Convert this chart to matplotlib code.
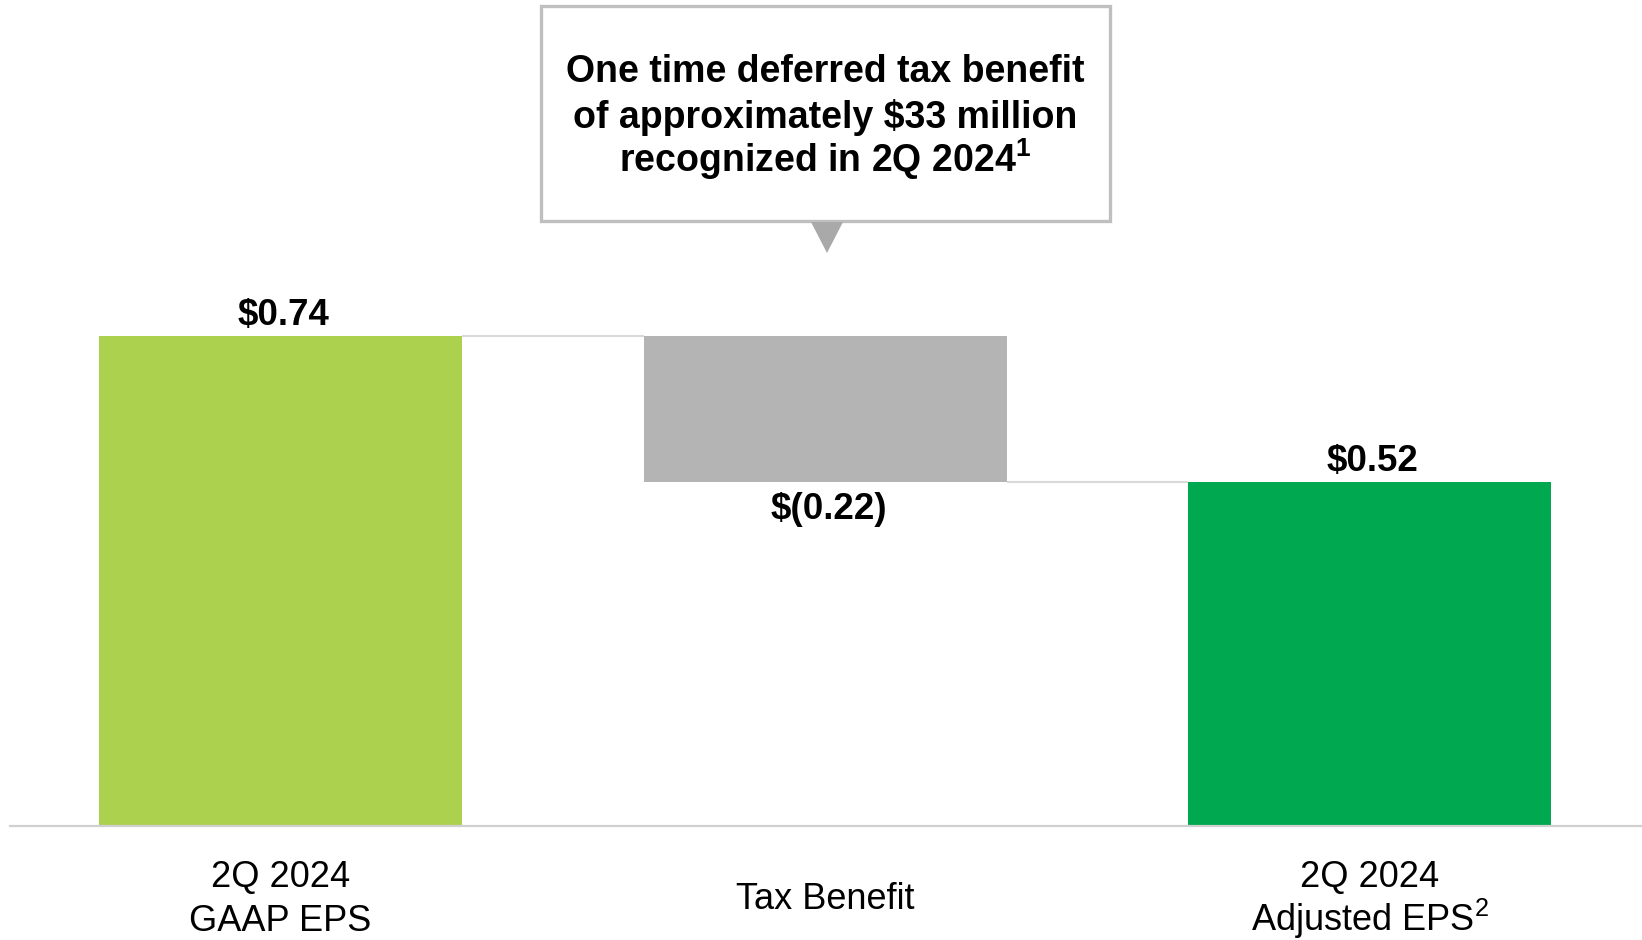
import matplotlib
matplotlib.use("Agg")
import matplotlib.pyplot as plt
from matplotlib.patches import Rectangle, Polygon

plt.rcParams["font.family"] = ["Liberation Sans", "DejaVu Sans"]
plt.rcParams["mathtext.fontset"] = "custom"
plt.rcParams["mathtext.rm"] = "Liberation Sans"
plt.rcParams["mathtext.bf"] = "Liberation Sans:bold"

# Waterfall data: EPS bridge
categories = ["2Q 2024\nGAAP EPS", "Tax Benefit", "2Q 2024\nAdjusted EPS$^{\\mathrm{2}}$"]
values = [0.74, -0.22, 0.52]
kinds = ["total", "delta", "total"]
value_labels = ["$0.74", "$(0.22)", "$0.52"]
bar_colors = ["#ACD14F", "#B4B4B5", "#00A84F"]
callout_lines = ["One time deferred tax benefit",
                 "of approximately \\$33 million",
                 "recognized in 2Q 2024$^{\\mathbf{1}}$"]

W, H = 1642, 940
fig = plt.figure(figsize=(W / 100, H / 100), dpi=100)
ax = fig.add_axes([0, 0, 1, 1])
ax.set_xlim(-0.5153, 2.5002)
ax.set_ylim(-0.1722, 1.2477)
ax.axis("off")

width = 0.667
x = list(range(len(categories)))

# compute bar bottoms / tops for the waterfall
bottoms, tops = [], []
running = 0.0
for v, k in zip(values, kinds):
    if k == "total":
        b, t = 0.0, v
        running = v
    else:
        start = running
        running = running + v
        b, t = min(start, running), max(start, running)
    bottoms.append(b)
    tops.append(t)

ax.bar(x, [t - b for t, b in zip(tops, bottoms)], bottom=bottoms,
       width=width, color=bar_colors, edgecolor="none", zorder=2)

# connectors between consecutive bars
levels = []
running = 0.0
for v, k in zip(values, kinds):
    running = v if k == "total" else running + v
    levels.append(running)
for i in range(len(x) - 1):
    ax.plot([x[i] + width / 2, x[i + 1] - width / 2], [levels[i], levels[i]],
            color="#D9D9D9", lw=1.5, zorder=1, solid_capstyle="butt")

# baseline
ax.plot([-0.497, 2.5002], [0, 0], color="#D0D0D0", lw=1.6, zorder=3)

# value labels (plain text, no math parsing)
for i, (lab, v, k) in enumerate(zip(value_labels, values, kinds)):
    if v >= 0:
        t = ax.annotate(lab, (x[i] + 0.006, tops[i]), xytext=(0, 2), textcoords="offset points",
                        ha="center", va="bottom", fontsize=26.5, fontweight="bold")
    else:
        t = ax.annotate(lab, (x[i] + 0.006, bottoms[i]), xytext=(0, -7.5), textcoords="offset points",
                        ha="center", va="top", fontsize=26.5, fontweight="bold")
    t.set_parse_math(False)

# category labels under the baseline (text baselines)
for i, cat in enumerate(categories):
    lines = cat.split("\n")
    if len(lines) == 2:
        ax.text(x[i], -0.0925, lines[0], ha="center", va="baseline", fontsize=26)
        ax.text(x[i], -0.1580, lines[1], ha="center", va="baseline", fontsize=26)
    else:
        ax.text(x[i], -0.1260, lines[0], ha="center", va="baseline", fontsize=26)

# callout box with pointer (figure pixel coordinates)
tr = fig.transFigure
def fx(px):
    return px / W
def fy(py):
    return 1 - py / H

box = Rectangle((fx(541), fy(221)), fx(1110) - fx(541), fy(6) - fy(221),
                transform=tr, facecolor="white", edgecolor="#BFBFBF", lw=2.4, zorder=5)
fig.add_artist(box)
tri = Polygon([(fx(811), fy(222)), (fx(843), fy(222)), (fx(827), fy(253))],
              closed=True, transform=tr, facecolor="#A9A9A9", edgecolor="none", zorder=5)
fig.add_artist(tri)
for j, line in enumerate(callout_lines):
    fig.text(fx(825.5), fy(73 + 45 * j + 9.5), line, ha="center", va="baseline",
             fontsize=27, fontweight="bold", zorder=6)

fig.savefig("out.png", dpi=100, facecolor="white")
